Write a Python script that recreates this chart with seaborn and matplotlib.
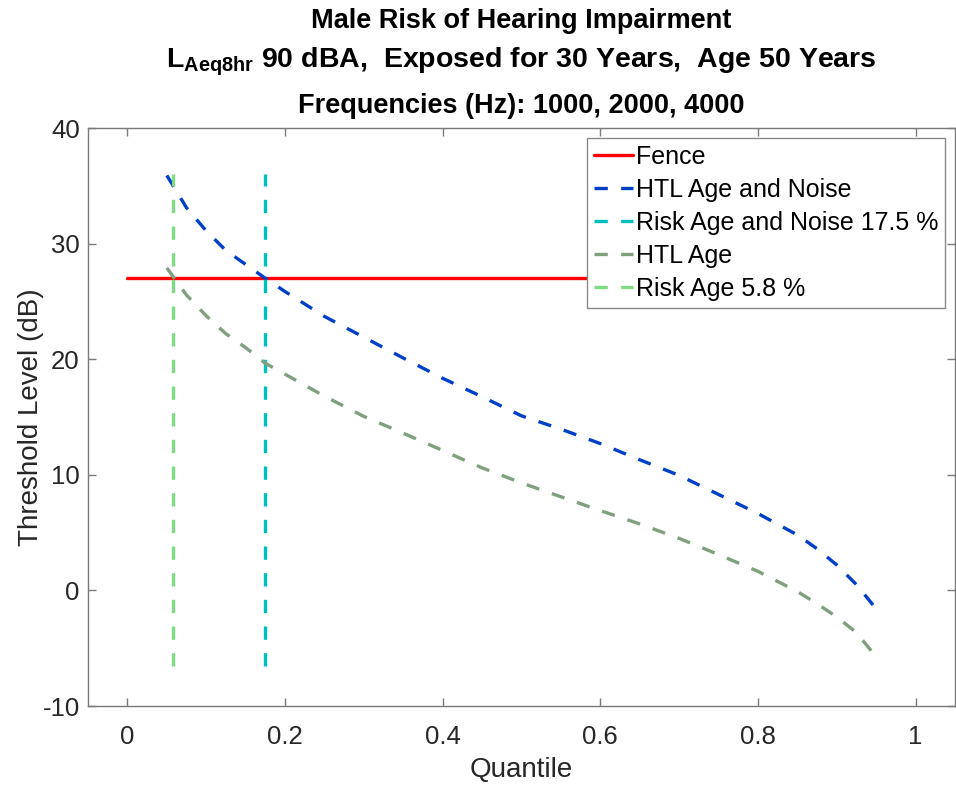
import numpy as np
import pandas as pd
import matplotlib
matplotlib.use("Agg")
import matplotlib.pyplot as plt
import seaborn as sns

# ---------------- data ----------------
quantile = [0.05, 0.075, 0.10, 0.125, 0.15, 0.175, 0.20, 0.25, 0.30, 0.35, 0.40,
            0.45, 0.50, 0.55, 0.60, 0.65, 0.70, 0.75, 0.80, 0.85, 0.875, 0.90,
            0.925, 0.95]
htl_age_noise = [35.9, 33.1, 31.1, 29.4, 28.2, 27.0, 25.85, 23.7, 21.9, 20.1, 18.35,
                 16.75, 15.1, 13.95, 12.7, 11.3, 9.95, 8.3, 6.65, 4.8, 3.6, 2.2,
                 0.5, -1.6]
htl_age = [27.9, 25.55, 23.75, 22.2, 21.0, 19.65, 18.7, 16.8, 15.05, 13.6, 12.1,
           10.6, 9.3, 8.1, 6.9, 5.75, 4.5, 3.1, 1.65, -0.1, -1.15, -2.3,
           -3.65, -5.75]
fence_x = [0.0, 1.0]
fence_y = [27.0, 27.0]
risk_age_noise = 0.175   # 17.5 %
risk_age = 0.058         # 5.8 %
risk_y = [-6.5, 36.0]

labels = ["Fence", "HTL Age and Noise", "Risk Age and Noise 17.5 %", "HTL Age", "Risk Age 5.8 %"]
colors = ["#FF0000", "#0040C8", "#00BFBF", "#7F9F7F", "#80DC80"]

xticks = [0, 0.2, 0.4, 0.6, 0.8, 1]
xticklabels = ["0", "0.2", "0.4", "0.6", "0.8", "1"]
yticks = [-10, 0, 10, 20, 30, 40]

# ---------------- style ----------------
sns.set_theme(style="white")
plt.rcParams["font.family"] = ["Liberation Sans", "DejaVu Sans"]
plt.rcParams["axes.unicode_minus"] = False
plt.rcParams["mathtext.fontset"] = "custom"
plt.rcParams["mathtext.rm"] = "Liberation Sans"
plt.rcParams["mathtext.bf"] = "Liberation Sans:bold"

fig = plt.figure(figsize=(9.56, 7.86), dpi=100)
ax = fig.add_axes([88 / 956, 1 - 706 / 786, (955 - 88) / 956, (706 - 128) / 786])

lw = 2.4
dash = (0, (4.0, 4.0))

sns.lineplot(x=fence_x, y=fence_y, ax=ax, color=colors[0], linewidth=lw,
             label=labels[0], estimator=None, sort=False)
sns.lineplot(x=quantile, y=htl_age_noise, ax=ax, color=colors[1], linewidth=lw,
             linestyle=dash, label=labels[1], estimator=None, sort=False)
sns.lineplot(x=[risk_age_noise, risk_age_noise], y=risk_y, ax=ax, color=colors[2],
             linewidth=lw, linestyle=dash, label=labels[2], estimator=None, sort=False)
sns.lineplot(x=quantile, y=htl_age, ax=ax, color=colors[3], linewidth=lw,
             linestyle=dash, label=labels[3], estimator=None, sort=False)
sns.lineplot(x=[risk_age, risk_age], y=risk_y, ax=ax, color=colors[4],
             linewidth=lw, linestyle=dash, label=labels[4], estimator=None, sort=False)

ax.set_xlim(-0.05, 1.05)
ax.set_ylim(-10, 40)
ax.set_xticks(xticks)
ax.set_xticklabels(xticklabels)
ax.set_yticks(yticks)

axis_col = "#262626"
for s in ax.spines.values():
    s.set_visible(True)
    s.set_color("#7a7a7a")
    s.set_linewidth(1.0)
ax.tick_params(axis="both", which="both", direction="in", length=6, width=1.0,
               color="#7a7a7a", top=True, right=True, bottom=True, left=True,
               labelsize=18.5, labelcolor=axis_col)
ax.tick_params(axis="x", pad=14)
ax.tick_params(axis="y", pad=6)

ax.set_xlabel("Quantile", fontsize=20, color=axis_col)
ax.set_ylabel("Threshold Level (dB)", fontsize=20, color=axis_col)
ax.xaxis.set_label_coords(0.5, -(757 - 706) / 578)
ax.yaxis.set_label_coords(-(88 - 44) / 867, 0.5)

leg = ax.legend(loc="upper right", bbox_to_anchor=((945 - 88) / 867, 1 - (138 - 128) / 578),
                borderaxespad=0, fontsize=18, handlelength=1.55, handletextpad=0.1,
                labelspacing=0.36, borderpad=0.28, frameon=True, fancybox=False,
                framealpha=1, edgecolor="#8a8a8a")
leg.get_frame().set_linewidth(1.0)
for t in leg.get_texts():
    t.set_color("#000000")

# title (three lines)
cx = (88 + 955) / 2 / 956
fig.text(cx, 1 - 21 / 786, "Male Risk of Hearing Impairment", ha="center", va="center",
         fontsize=19.5, fontweight="bold", color="#000000")
fig.text(cx, 1 - 62 / 786,
         r"$\mathbf{L_{Aeq8hr}}$ 90 dBA,  Exposed for 30 Years,  Age 50 Years",
         ha="center", va="center", fontsize=20.5, fontweight="bold", color="#000000")
fig.text(cx, 1 - 106 / 786, "Frequencies (Hz): 1000, 2000, 4000", ha="center", va="center",
         fontsize=19.5, fontweight="bold", color="#000000")

fig.savefig("out.png", dpi=100, facecolor="white")
